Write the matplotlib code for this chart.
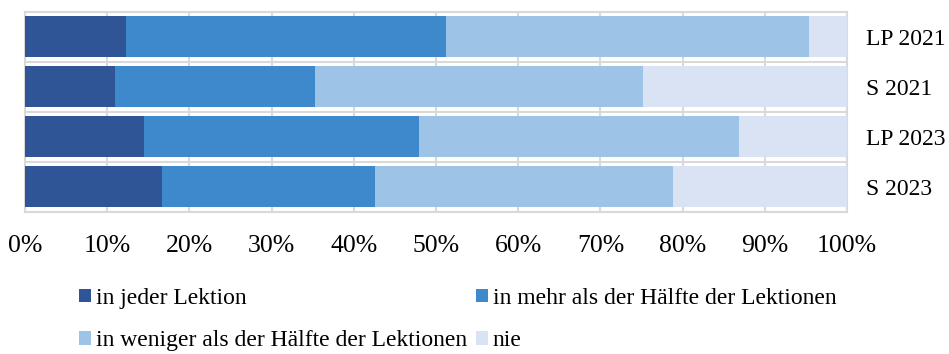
import matplotlib
matplotlib.use("Agg")
import matplotlib.pyplot as plt
from matplotlib.patches import Patch
import numpy as np

plt.rcParams["font.family"] = ["Liberation Serif", "DejaVu Serif"]

groups = ["LP 2021", "S 2021", "LP 2023", "S 2023"]
series = [
    "in jeder Lektion",
    "in mehr als der Hälfte der Lektionen",
    "in weniger als der Hälfte der Lektionen",
    "nie",
]
# Anteile in Prozent je Gruppe
jeder = [12.3, 10.9, 14.5, 16.7]
mehr_haelfte = [38.9, 24.4, 33.4, 25.9]
weniger_haelfte = [44.2, 39.9, 39.0, 36.2]
nie = [4.6, 24.8, 13.1, 21.2]
colors = ["#2F5597", "#3E89CC", "#9DC3E6", "#DAE3F3"]
grid_col = "#D9D9D9"

fig = plt.figure(figsize=(9.49, 3.54), dpi=100)
ax = fig.add_axes([25 / 949, 1 - 211.7 / 354, 822 / 949, 200 / 354])

y = np.arange(len(groups))
left = np.zeros(len(groups))
for vals, name, col in zip([jeder, mehr_haelfte, weniger_haelfte, nie], series, colors):
    vals = np.asarray(vals)
    ax.barh(y, vals, left=left, height=0.83, color=col, label=name, zorder=3)
    left += vals

ax.set_xlim(0, 100)
ax.set_ylim(3.5, -0.5)
ax.set_xticks(np.arange(0, 101, 10))
ax.set_xticklabels([f"{v}%" for v in range(0, 101, 10)], fontsize=18.5)
ax.set_yticks(y)
ax.set_yticklabels(groups, fontsize=17)
ax.yaxis.tick_right()
ax.tick_params(axis="y", length=0, pad=14)
ax.tick_params(axis="x", length=0, pad=17)

# Gitterlinien: vertikal je 10 %, horizontal zwischen den Balken
ax.set_yticks([0.5, 1.5, 2.5], minor=True)
ax.grid(axis="x", which="major", color=grid_col, lw=1.5, zorder=0)
ax.grid(axis="y", which="minor", color=grid_col, lw=1.5, zorder=0)
ax.tick_params(axis="y", which="minor", length=0)
for sp in ax.spines.values():
    sp.set_color(grid_col)
    sp.set_linewidth(1.5)

# Legende zeilenweise: ncol=2 füllt spaltenweise, daher umsortieren
order = [0, 2, 1, 3]
handles = [Patch(facecolor=colors[i], edgecolor="none") for i in order]
labels = [series[i] for i in order]
fig.legend(handles, labels, loc="upper left", bbox_to_anchor=(79 / 949, 1 - 288 / 354),
           ncol=2, frameon=False, fontsize=17, handlelength=0.5, handleheight=0.5,
           handletextpad=0.2, columnspacing=0.4, labelspacing=0.9, borderaxespad=0,
           borderpad=0)

fig.savefig("out.png", dpi=100)
